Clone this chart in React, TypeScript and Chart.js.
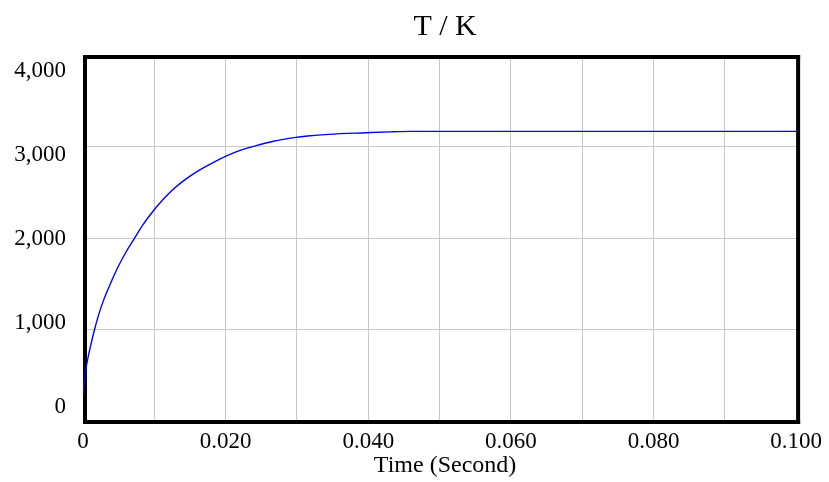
import React, { useEffect, useRef } from "react";
import { Chart, registerables } from "chart.js";

Chart.register(...registerables);

const timeSeconds = [0, 0.0002, 0.0005, 0.001, 0.00163, 0.00219, 0.00289, 0.00386, 0.00489, 0.00605, 0.00721, 0.00837, 0.0099, 0.01116, 0.01255, 0.01395, 0.01512, 0.01674, 0.01837, 0.02022, 0.02233, 0.0244, 0.0255, 0.0267, 0.0281, 0.0296, 0.0315, 0.0345, 0.0397, 0.0431, 0.046, 0.06, 0.08, 0.1];
const temperatureK = [280, 450, 610, 800, 1003, 1160, 1321, 1504, 1680, 1850, 1996, 2140, 2300, 2415, 2525, 2616, 2682, 2760, 2830, 2900, 2965, 3012, 3035, 3057, 3078, 3097, 3115, 3133, 3150, 3160, 3165, 3165, 3165, 3165];
const xTickLabels = ["0", "", "0.020", "", "0.040", "", "0.060", "", "0.080", "", "0.100"];
const yTickLabels = ["0", "1,000", "2,000", "3,000", "4,000"];
const chartTitle = "T / K";
const xAxisTitle = "Time (Second)";

const FONT = "'Liberation Serif', 'Times New Roman', serif";

const framePlugin = {
  id: "frameAndLabels",
  beforeDatasetsDraw(chart: any) {
    const { ctx, chartArea } = chart;
    const { left, right, top, bottom } = chartArea;
    ctx.save();
    ctx.fillStyle = "#000000";
    ctx.fillRect(left, top, 4, bottom - top + 3);
    ctx.fillRect(right, top, 4, bottom - top + 3);
    ctx.fillRect(left, top, right - left + 4, 4);
    ctx.fillRect(left, bottom - 1, right - left + 4, 4);
    // y labels (Vensim style, spread inside the frame)
    ctx.font = `23px ${FONT}`;
    ctx.textAlign = "right";
    ctx.textBaseline = "middle";
    const yTop = top + 16;
    const yBot = bottom - 14;
    const n = yTickLabels.length - 1;
    yTickLabels.forEach((lab, i) => {
      const y = yBot - (i * (yBot - yTop)) / n;
      ctx.fillText(lab, left - 17, y);
    });
    // titles
    const cx = (left + right) / 2 + 5.5;
    ctx.textAlign = "center";
    ctx.textBaseline = "alphabetic";
    ctx.font = `30px ${FONT}`;
    ctx.fillText(chartTitle, cx, 35);
    ctx.font = `24px ${FONT}`;
    ctx.textBaseline = "middle";
    ctx.fillText(xAxisTitle, cx, 466);
    ctx.restore();
  },
};

export default function App() {
  const ref = useRef<HTMLCanvasElement | null>(null);
  useEffect(() => {
    document.body.style.margin = "0";
    if (!ref.current) return;
    const chart = new Chart(ref.current, {
      type: "line",
      data: {
        datasets: [
          {
            label: "T",
            data: timeSeconds.map((t, i) => ({ x: t, y: temperatureK[i] })),
            borderColor: "#0000ff",
            borderWidth: 1.4,
            pointRadius: 0,
            cubicInterpolationMode: "monotone",
            fill: false,
          },
        ],
      },
      options: {
        responsive: false,
        animation: false,
        layout: { padding: { left: 0, right: 29, top: 55, bottom: 0 } },
        plugins: {
          legend: { display: false },
          tooltip: { enabled: false },
          title: { display: false },
        },
        scales: {
          x: {
            type: "linear",
            min: 0,
            max: 0.1,
            border: { display: false },
            grid: { color: "#c8c8c8", lineWidth: 1, drawTicks: false },
            ticks: {
              stepSize: 0.01,
              autoSkip: false,
              maxRotation: 0,
              padding: 7,
              color: "#000000",
              font: { family: FONT, size: 23 },
              callback: (_v: any, i: number) => xTickLabels[i] ?? "",
            },
            afterFit: (scale: any) => {
              scale.height = 61;
            },
          },
          y: {
            min: 0,
            max: 4000,
            border: { display: false },
            grid: { color: "#c8c8c8", lineWidth: 1, drawTicks: false },
            ticks: { stepSize: 1000, display: false },
            afterFit: (scale: any) => {
              scale.width = 83;
            },
          },
        },
      },
      plugins: [framePlugin],
    });
    return () => chart.destroy();
  }, []);
  return <canvas ref={ref} width={829} height={482} style={{ display: "block" }} />;
}
